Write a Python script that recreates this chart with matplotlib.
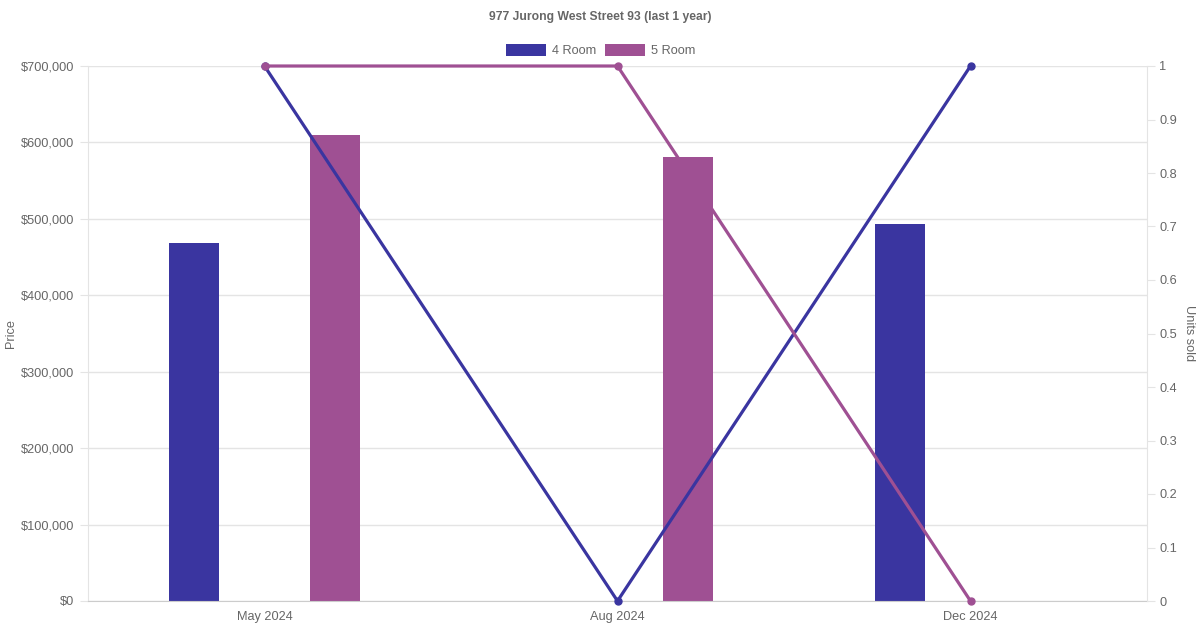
import matplotlib.pyplot as plt
import numpy as np
from matplotlib.patches import Rectangle

plt.rcParams['font.family'] = ['Liberation Sans', 'DejaVu Sans']

# data
months = ['May 2024', 'Aug 2024', 'Dec 2024']
price_4room = [468000, None, 493000]
price_5room = [610000, 581000, None]
units_4room = [1, 0, 1]
units_5room = [1, 1, 0]

c4 = '#3a35a0'
c5 = '#9f5093'
txt = '#666666'
grid = '#e4e4e4'

W, H = 1200, 630
fig = plt.figure(figsize=(12, 6.3), dpi=100)
L, R, T, B = 88, 1147, 66, 601
ax = fig.add_axes([L / W, 1 - B / H, (R - L) / W, (B - T) / H])
ax2 = ax.twinx()

x = np.arange(len(months))
bw = 50 / 353.0
off = 70.5 / 353.0
for i in x:
    if price_4room[i] is not None:
        ax.bar(i - off, price_4room[i], width=bw, color=c4, zorder=2)
    if price_5room[i] is not None:
        ax.bar(i + off, price_5room[i], width=bw, color=c5, zorder=2)

ax.set_xlim(-0.5, 2.5)
ax.set_ylim(0, 700000)
yt = np.arange(0, 700001, 100000)
ax.set_yticks(yt)
ax.set_yticklabels(['$' + format(v, ',') for v in yt])
ax.set_xticks(x)
ax.set_xticklabels(months)
ax.grid(axis='y', color=grid, linewidth=1, zorder=0)
ax.tick_params(axis='y', colors=grid, length=6, labelcolor=txt, labelsize=9.2, pad=4)
ax.tick_params(axis='x', length=0, labelcolor=txt, labelsize=9.2, pad=7)
for s in ['top', 'right']:
    ax.spines[s].set_visible(False)
ax.spines['left'].set_color(grid)
ax.spines['bottom'].set_color('#cccccc')

ax2.plot(x, units_4room, color=c4, linewidth=2.3, marker='o', markersize=5, clip_on=False, zorder=3)
ax2.plot(x, units_5room, color=c5, linewidth=2.3, marker='o', markersize=5, clip_on=False, zorder=3)
ax2.set_ylim(0, 1)
ax2.set_yticks(np.arange(0, 1.01, 0.1))
ax2.set_yticklabels(['0'] + ['%.1f' % v for v in np.arange(0.1, 1.0, 0.1)] + ['1'])
ax2.tick_params(axis='y', colors=grid, length=6, labelcolor=txt, labelsize=9.2, pad=3)
for s in ['top', 'left', 'bottom']:
    ax2.spines[s].set_visible(False)
ax2.spines['right'].set_color(grid)

fig.text(11 / W, 1 - 333 / H, 'Price', rotation=90, ha='center', va='center', color=txt, fontsize=9.2)
fig.text(1189 / W, 1 - 333 / H, 'Units sold', rotation=270, ha='center', va='center', color=txt, fontsize=9.2)

fig.text(600 / W, 1 - 17 / H, '977 Jurong West Street 93 (last 1 year)', ha='center', va='center',
         color=txt, fontsize=8.7, fontweight='bold')

# legend
for bx, col, lab in [(506, c4, '4 Room'), (605, c5, '5 Room')]:
    fig.patches.append(Rectangle((bx / W, 1 - 56 / H), 40 / W, 12 / H, transform=fig.transFigure,
                                 facecolor=col, edgecolor='none'))
    fig.text((bx + 46) / W, 1 - 51 / H, lab, ha='left', va='center', color=txt, fontsize=9.2)

plt.savefig('out.png', dpi=100)
